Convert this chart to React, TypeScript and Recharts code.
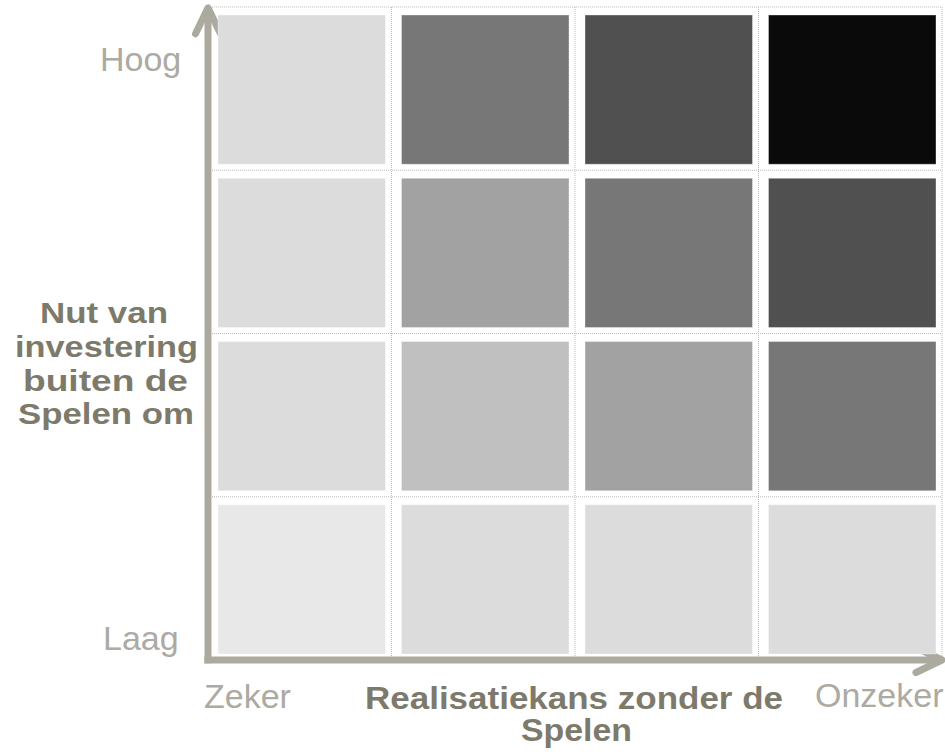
import React from "react";
import {
  CartesianGrid,
  Cell,
  ReferenceLine,
  Scatter,
  ScatterChart,
  XAxis,
  YAxis,
} from "recharts";

// realisatiekans zonder de Spelen (x), nut buiten de Spelen om (y)
const xLevels = [0, 1, 2, 3];
const yLevels = [0, 1, 2, 3];
const gridTicks = [0, 1, 2, 3, 4];

// shade score per cell, row index = nut level (0 = Laag, 3 = Hoog)
const rowLaag = [0, 1, 1, 1];
const row2 = [1, 2, 3, 4];
const row3 = [1, 3, 4, 5];
const rowHoog = [1, 4, 5, 6];
const scoreRows = [rowLaag, row2, row3, rowHoog];

const shades = ["#e8e8e8", "#dcdcdc", "#c0c0c0", "#a2a2a2", "#777777", "#505050", "#0a0a0a"];

const AXIS = "#aca99f";
const LIGHT_TEXT = "#acaaa2";
const DARK_TEXT = "#7d7a6b";
const FONT = "'Liberation Sans', Arial, sans-serif";

const W = 945;
const H = 752;
const MARGIN = { top: 7, right: 3, bottom: 92, left: 208 };
const CELL_W = (W - MARGIN.left - MARGIN.right) / 4 - 16;
const CELL_H = (H - MARGIN.top - MARGIN.bottom) / 4 - 14;

const cells = yLevels.flatMap((y) =>
  xLevels.map((x) => ({ x: x + 0.5, y: y + 0.5, score: scoreRows[y][x] }))
);

const EmptyTick = () => <g />;

function CellRect(props: any) {
  const { cx, cy, fill } = props;
  return (
    <rect
      x={cx - CELL_W / 2 + 2}
      y={cy - CELL_H / 2 + 1}
      width={CELL_W}
      height={CELL_H}
      fill={fill}
      stroke="#ffffff"
      strokeOpacity={0.35}
      strokeWidth={1}
    />
  );
}

function ArrowLine(props: any) {
  const { x1, y1, x2, y2 } = props;
  const dx = x2 - x1;
  const dy = y2 - y1;
  const len = Math.sqrt(dx * dx + dy * dy) || 1;
  const ux = dx / len;
  const uy = dy / len;
  const back = 26;
  const side = 12.5;
  const a1x = x2 - ux * back - uy * side;
  const a1y = y2 - uy * back + ux * side;
  const a2x = x2 - ux * back + uy * side;
  const a2y = y2 - uy * back - ux * side;
  return (
    <g>
      <line x1={x1} y1={y1} x2={x2} y2={y2} stroke={AXIS} strokeWidth={7} />
      <path
        d={`M${a1x},${a1y} L${x2},${y2} L${a2x},${a2y}`}
        fill="none"
        stroke={AXIS}
        strokeWidth={7}
        strokeLinecap="round"
        strokeLinejoin="round"
      />
    </g>
  );
}

export default function App() {
  return (
    <div style={{ position: "absolute", left: 0, top: 0, width: W, height: H, background: "#fff" }}>
      <ScatterChart width={W} height={H} margin={MARGIN}>
        <XAxis
          type="number"
          dataKey="x"
          domain={[0, 4]}
          ticks={gridTicks}
          interval={0}
          axisLine={false}
          tickLine={false}
          tick={EmptyTick}
          height={0}
        />
        <YAxis
          type="number"
          dataKey="y"
          domain={[0, 4]}
          ticks={gridTicks}
          interval={0}
          axisLine={false}
          tickLine={false}
          tick={EmptyTick}
          width={0}
        />
        <CartesianGrid stroke="#bdbdb5" strokeDasharray="1 1" />
        <ReferenceLine
          segment={[{ x: -0.02, y: 0 }, { x: 4, y: 0 }]}
          ifOverflow="visible"
          shape={ArrowLine}
        />
        <ReferenceLine
          segment={[{ x: 0, y: -0.02 }, { x: 0, y: 3.995 }]}
          ifOverflow="visible"
          shape={ArrowLine}
        />
        <Scatter data={cells} shape={CellRect} isAnimationActive={false}>
          {cells.map((c, i) => (
            <Cell key={i} fill={shades[c.score]} />
          ))}
        </Scatter>
        <text x={100} y={71} fontFamily={FONT} fontSize={34} fill={LIGHT_TEXT}>Hoog</text>
        <text x={103} y={650} fontFamily={FONT} fontSize={34} fill={LIGHT_TEXT}>Laag</text>
        <text x={204} y={708} fontFamily={FONT} fontSize={34} fill={LIGHT_TEXT}>Zeker</text>
        <text x={815} y={707} fontFamily={FONT} fontSize={34} fill={LIGHT_TEXT}>Onzeker</text>
        <g fontFamily={FONT} fontWeight="bold" fill={DARK_TEXT}>
          <text x={365} y={709} fontSize={31} textLength={418} lengthAdjust="spacingAndGlyphs">Realisatiekans zonder de</text>
          <text x={521} y={741} fontSize={31} textLength={111} lengthAdjust="spacingAndGlyphs">Spelen</text>
          <text x={40} y={323} fontSize={29} textLength={128} lengthAdjust="spacingAndGlyphs">Nut van</text>
          <text x={15} y={357} fontSize={29} textLength={183} lengthAdjust="spacingAndGlyphs">investering</text>
          <text x={23} y={391} fontSize={29} textLength={165} lengthAdjust="spacingAndGlyphs">buiten de</text>
          <text x={18} y={424} fontSize={29} textLength={176} lengthAdjust="spacingAndGlyphs">Spelen om</text>
        </g>
      </ScatterChart>
    </div>
  );
}
